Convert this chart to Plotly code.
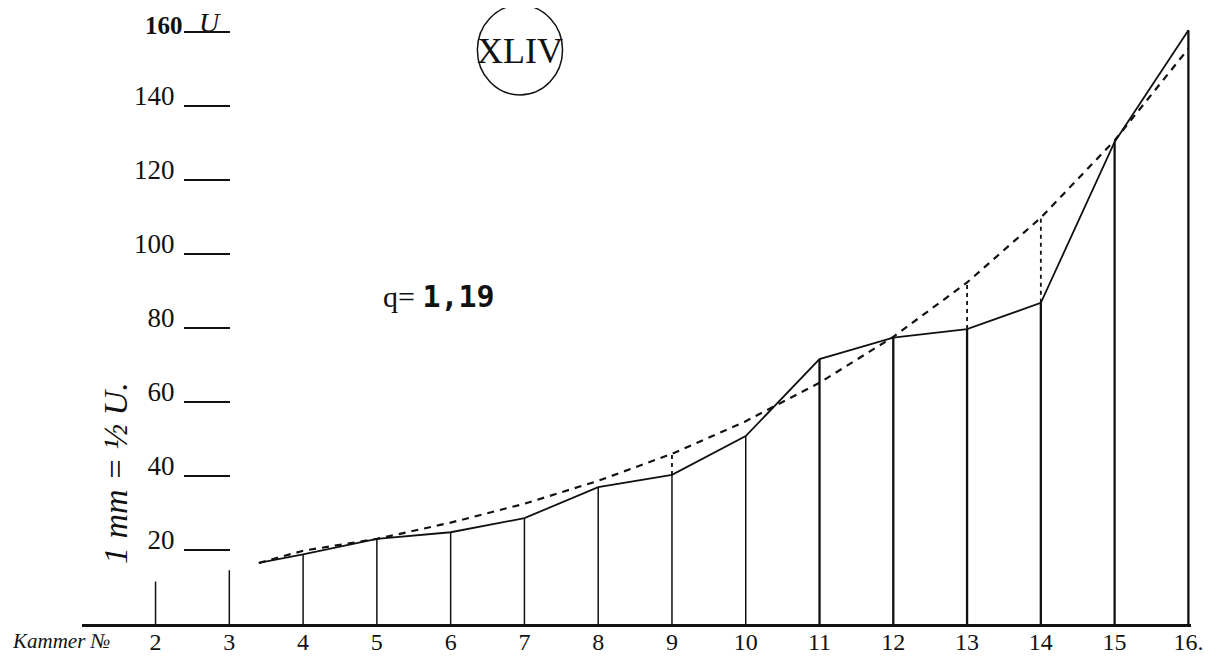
import plotly.graph_objects as go

# ---- data ----
chambers = [2, 3, 4, 5, 6, 7, 8, 9, 10, 11, 12, 13, 14, 15, 16]
observed = [11.5, 14.5, 18.8, 23.0, 24.8, 28.6, 37.0, 40.3, 50.8, 71.6, 77.4, 79.7, 86.8, 130.3, 160.5]
line_x = [3.4, 4, 5, 6, 7, 8, 9, 10, 11, 12, 13, 14, 15, 16]
line_obs = [16.5, 18.8, 23.0, 24.8, 28.6, 37.0, 40.3, 50.8, 71.6, 77.4, 79.7, 86.8, 130.3, 160.5]
geom_x = [3.4, 4, 5, 6, 7, 8, 9, 10, 11, 12, 13, 14, 15, 16]
geom_vals = [16.5, 19.8, 23.0, 27.4, 32.5, 38.7, 46.0, 54.8, 65.2, 77.6, 92.3, 109.8, 130.7, 155.5]
gap_x = [9, 13, 14]
gap_low = [40.3, 79.7, 86.8]
gap_high = [46.0, 92.3, 109.8]
x_tick_text = ["2", "3", "4", "5", "6", "7", "8", "9", "10", "11", "12", "13", "14", "15", "16."]
y_ticks = [20, 40, 60, 80, 100, 120, 140, 160]
y_tick_text = ["20", "40", "60", "80", "100", "120", "140", ""]
top_label = "160"
plate = "XLIV"

W, H = 1232, 661
OFF = 8  # page body margin offset in the browser
INK = "#111111"
SERIF = "Liberation Serif, DejaVu Serif, serif"

fig = go.Figure()

# vertical ordinates
thin_x, thin_y, thick_x, thick_y = [], [], [], []
for c, v in zip(chambers, observed):
    if c <= 10:
        thin_x += [c, c, None]; thin_y += [0, v, None]
    else:
        thick_x += [c, c, None]; thick_y += [0, v, None]
fig.add_trace(go.Scatter(x=thin_x, y=thin_y, mode="lines",
                         line=dict(color=INK, width=1.5), hoverinfo="skip"))
fig.add_trace(go.Scatter(x=thick_x, y=thick_y, mode="lines",
                         line=dict(color=INK, width=2.3), hoverinfo="skip"))

# dotted gaps between observed and geometric values
gx, gy = [], []
for c, lo, hi in zip(gap_x, gap_low, gap_high):
    gx += [c, c, None]; gy += [lo, hi, None]
fig.add_trace(go.Scatter(x=gx, y=gy, mode="lines",
                         line=dict(color=INK, width=1.8, dash="4px,4px"), hoverinfo="skip"))

# geometric progression (dashed)
fig.add_trace(go.Scatter(x=geom_x, y=geom_vals, mode="lines",
                         line=dict(color=INK, width=2.2, dash="7px,6px"), hoverinfo="skip"))
# observed polygon (solid)
fig.add_trace(go.Scatter(x=line_x, y=line_obs, mode="lines",
                         line=dict(color=INK, width=1.8), hoverinfo="skip"))

# axis geometry (reference pixels, corrected for page offset)
x_left_px, x_right_px = 83 - OFF, 1203 - OFF
px_per_unit = 74.5
x2_px = 157 - OFF
base_px = 624 - OFF
y_scale = 3.7
b_margin = H - base_px
x0 = 2 - (x2_px - x_left_px) / px_per_unit
x1 = 2 + (x_right_px - x2_px) / px_per_unit
ytop = base_px / y_scale

fig.update_layout(
    width=W, height=H,
    margin=dict(l=0, r=0, t=0, b=b_margin),
    paper_bgcolor="white", plot_bgcolor="white",
    showlegend=False,
    xaxis=dict(domain=[x_left_px / W, x_right_px / W], range=[x0, x1],
               showgrid=False, zeroline=False, showline=True, linewidth=3, linecolor=INK,
               tickmode="array", tickvals=chambers, ticktext=x_tick_text, ticks="",
               ticklabelstandoff=-6,
               tickfont=dict(family=SERIF, size=24, color=INK)),
    yaxis=dict(range=[0, ytop], showgrid=False, zeroline=False, showline=False,
               anchor="free", position=(232 - OFF) / W,
               tickmode="array", tickvals=y_ticks, ticktext=y_tick_text,
               ticks="outside", ticklen=46, tickwidth=1.6, tickcolor=INK,
               ticklabelshift=-10, ticklabelstandoff=4,
               tickfont=dict(family=SERIF, size=27, color=INK)),
)


def px(p):
    return (p - OFF) / W


def py(p):
    return (base_px - (p - OFF)) / base_px


def note(xp, yp, text, size, **kw):
    fig.add_annotation(xref="paper", yref="paper", x=px(xp), y=py(yp), text=text,
                       showarrow=False, xanchor=kw.pop("xanchor", "center"),
                       yanchor=kw.pop("yanchor", "middle"),
                       font=dict(family=kw.pop("family", SERIF), size=size, color=INK), **kw)


# top tick label with unit mark
note(166, 25, "<b>" + top_label + "</b>", 25)
note(212, 23, "<i>U</i>", 28)

# plate number in a circle
fig.add_shape(type="circle", xref="paper", yref="paper",
              x0=px(482), x1=px(568), y0=py(95), y1=py(5),
              line=dict(color=INK, width=1.5))
note(525, 51, plate, 36)

# q label
note(385, 296, "q= <span style='font-family:DejaVu Sans Mono'><b>1,19</b></span>", 30,
     xanchor="left")

# rotated scale note
note(116, 473, "<i>1 mm = ½ U.</i>", 34, textangle=-90)

# Kammer No label
note(10, 641, "<i>Kammer №</i>", 21, xanchor="left")

fig.write_html("out.html")
